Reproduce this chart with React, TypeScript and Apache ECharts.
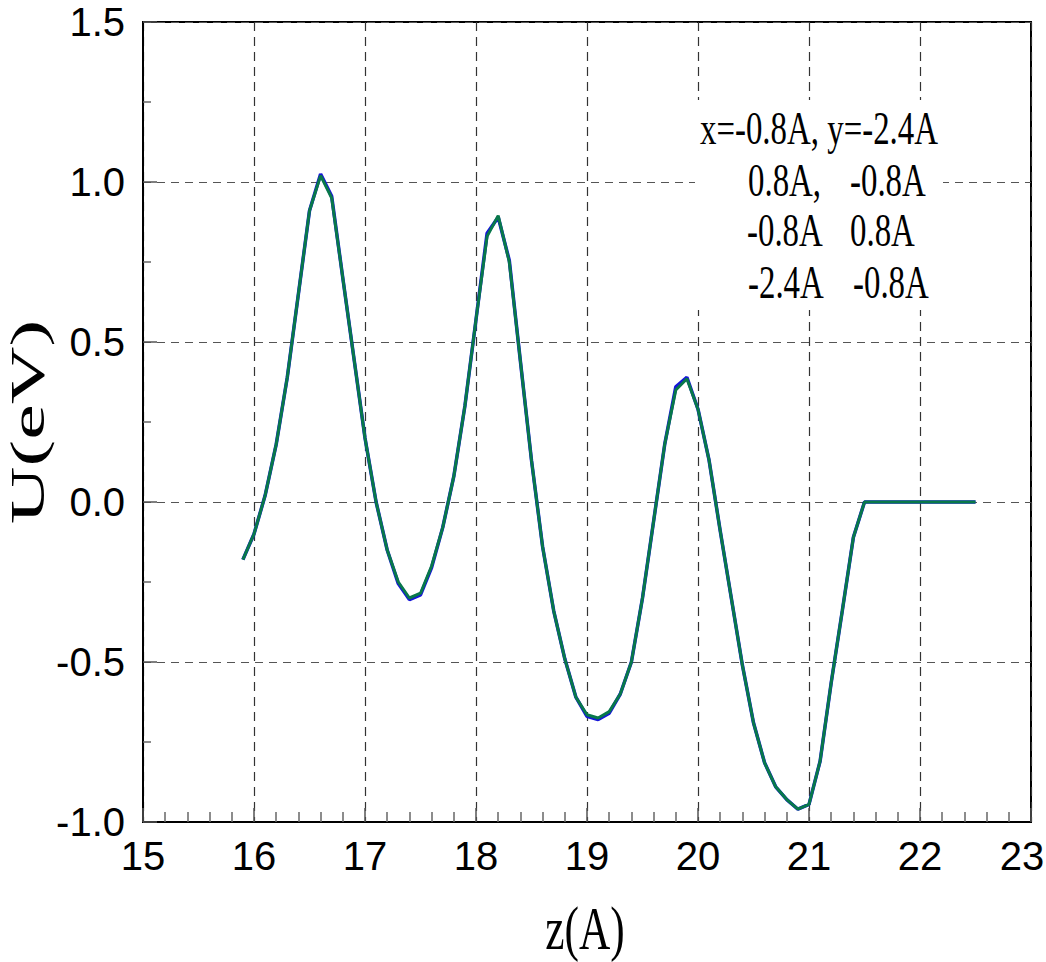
import React, { useEffect, useRef } from "react";
import * as echarts from "echarts";

const zValues = [
  15.9, 16.0, 16.1, 16.2, 16.3, 16.4, 16.5, 16.6, 16.7, 16.8, 16.9,
  17.0, 17.1, 17.2, 17.3, 17.4, 17.5, 17.6, 17.7, 17.8, 17.9,
  18.0, 18.1, 18.2, 18.3, 18.4, 18.5, 18.6, 18.7, 18.8, 18.9,
  19.0, 19.1, 19.2, 19.3, 19.4, 19.5, 19.6, 19.7, 19.8, 19.9,
  20.0, 20.1, 20.2, 20.3, 20.4, 20.5, 20.6, 20.7, 20.8, 20.9,
  21.0, 21.1, 21.2, 21.3, 21.4, 21.5, 21.6, 21.7, 21.8, 21.9,
  22.0, 22.1, 22.2, 22.3, 22.4, 22.5,
];

const uGreen = [
  -0.18, -0.10, 0.02, 0.18, 0.39, 0.65, 0.91, 1.02, 0.95, 0.70, 0.45,
  0.20, 0.00, -0.15, -0.25, -0.30, -0.285, -0.20, -0.08, 0.08, 0.30,
  0.57, 0.83, 0.895, 0.75, 0.44, 0.13, -0.14, -0.34, -0.49, -0.61,
  -0.665, -0.675, -0.655, -0.60, -0.50, -0.30, -0.06, 0.18, 0.35, 0.385,
  0.29, 0.13, -0.09, -0.30, -0.51, -0.69, -0.815, -0.89, -0.93, -0.96,
  -0.945, -0.81, -0.565, -0.34, -0.11, 0.0, 0.0, 0.0, 0.0, 0.0,
  0.0, 0.0, 0.0, 0.0, 0.0, 0.0,
];

const uBlue = [
  -0.18, -0.10, 0.02, 0.18, 0.39, 0.65, 0.91, 1.025, 0.955, 0.70, 0.45,
  0.20, 0.00, -0.15, -0.255, -0.305, -0.29, -0.205, -0.08, 0.08, 0.30,
  0.57, 0.84, 0.89, 0.755, 0.44, 0.13, -0.14, -0.34, -0.49, -0.61,
  -0.67, -0.68, -0.66, -0.60, -0.50, -0.30, -0.06, 0.18, 0.36, 0.39,
  0.29, 0.13, -0.09, -0.30, -0.51, -0.69, -0.815, -0.89, -0.93, -0.96,
  -0.945, -0.81, -0.565, -0.34, -0.11, 0.0, 0.0, 0.0, 0.0, 0.0,
  0.0, 0.0, 0.0, 0.0, 0.0, 0.0,
];

const legendLines = [
  ["x=-0.8A, y=-2.4A", ""],
  ["0.8A,", "-0.8A"],
  ["-0.8A", "0.8A"],
  ["-2.4A", "-0.8A"],
];

const xTitle = "z(A)";
const yTitle = "U(eV)";

export default function App() {
  const ref = useRef<HTMLDivElement>(null);
  useEffect(() => {
    if (!ref.current) return;
    const chart = echarts.init(ref.current, undefined, { renderer: "svg" });
    const serif = "'Liberation Serif', 'Times New Roman', serif";
    const sans = "'Liberation Sans Narrow', 'Liberation Sans', Arial, sans-serif";
    const fs = 46;
    const sx = 0.715;
    const leftX = [700, 748, 747, 748];
    const rightX = [0, 850, 850, 853];
    const baseY = [143, 195, 245, 297];
    const legendEls: any[] = [];
    legendLines.forEach((ln, i) => {
      legendEls.push({
        type: "text",
        x: leftX[i],
        y: baseY[i] - 15,
        scaleX: sx,
        z: 101,
        style: { text: ln[0], font: `${fs}px ${serif}`, fill: "#000", align: "left", verticalAlign: "middle" },
      });
      if (ln[1]) {
        legendEls.push({
          type: "text",
          x: rightX[i],
          y: baseY[i] - 15,
          scaleX: sx,
          z: 101,
          style: { text: ln[1], font: `${fs}px ${serif}`, fill: "#000", align: "left", verticalAlign: "middle" },
        });
      }
    });
    chart.setOption({
      animation: false,
      backgroundColor: "#fff",
      grid: {
        left: 143,
        top: 22,
        right: 15,
        bottom: 140,
        outerBoundsMode: "none",
        containLabel: false,
        show: true,
        borderColor: "#000",
        borderWidth: 2,
        backgroundColor: "transparent",
      },
      xAxis: {
        type: "value",
        min: 15,
        max: 23,
        interval: 1,
        axisLine: { show: true, onZero: false, lineStyle: { color: "#000", width: 2 } },
        axisTick: { show: true, inside: true, length: 14, lineStyle: { color: "#555", width: 1.5 } },
        minorTick: { show: true, splitNumber: 5, length: 10, lineStyle: { color: "#666", width: 1.5 } },
        splitLine: { show: true, lineStyle: { color: "#333", type: [9, 6], width: 1.2 } },
        axisLabel: {
          color: "#000",
          fontSize: 40,
          fontFamily: sans,
          margin: 14,
          formatter: (v: number) => (v === 23 ? `{last|${v}}` : `${v}`),
          rich: {
            last: { fontSize: 40, fontFamily: sans, color: "#000", padding: [0, 18, 0, 0] },
          },
        },
      },
      yAxis: {
        type: "value",
        min: -1,
        max: 1.5,
        interval: 0.5,
        axisLine: { show: true, onZero: false, lineStyle: { color: "#000", width: 2 } },
        axisTick: { show: true, inside: true, length: 14, lineStyle: { color: "#555", width: 1.5 } },
        minorTick: { show: true, splitNumber: 2, length: 8, lineStyle: { color: "#666", width: 1.5 } },
        splitLine: { show: true, lineStyle: { color: "#555", type: [8, 6], width: 1.2 } },
        axisLabel: {
          color: "#000",
          fontSize: 40,
          fontFamily: sans,
          margin: 18,
          formatter: (v: number) => v.toFixed(1),
        },
      },
      graphic: [
        {
          type: "rect",
          shape: { x: 695, y: 100, width: 248, height: 210 },
          style: { fill: "#fff" },
          z: 100,
        },
        ...legendEls,
        {
          type: "text",
          x: 585,
          y: 928,
          scaleX: 0.7,
          style: { text: xTitle, font: `62px ${serif}`, fill: "#000", align: "center", verticalAlign: "middle" },
        },
        {
          type: "text",
          x: 28,
          y: 422,
          rotation: Math.PI / 2,
          scaleY: 0.6,
          style: { text: yTitle, font: `80px ${serif}`, fill: "#000", align: "center", verticalAlign: "middle" },
        },
      ],
      series: [
        {
          type: "line",
          data: zValues.map((z, i) => [z, uBlue[i]]),
          showSymbol: false,
          lineStyle: { color: "#1515d8", width: 3.5 },
          z: 2,
        },
        {
          type: "line",
          data: zValues.map((z, i) => [z, uGreen[i]]),
          showSymbol: false,
          lineStyle: { color: "#08784a", width: 3 },
          z: 3,
        },
      ],
    });
    return () => chart.dispose();
  }, []);
  return <div ref={ref} style={{ width: 1046, height: 962, position: "absolute", left: 0, top: 0 }} />;
}
